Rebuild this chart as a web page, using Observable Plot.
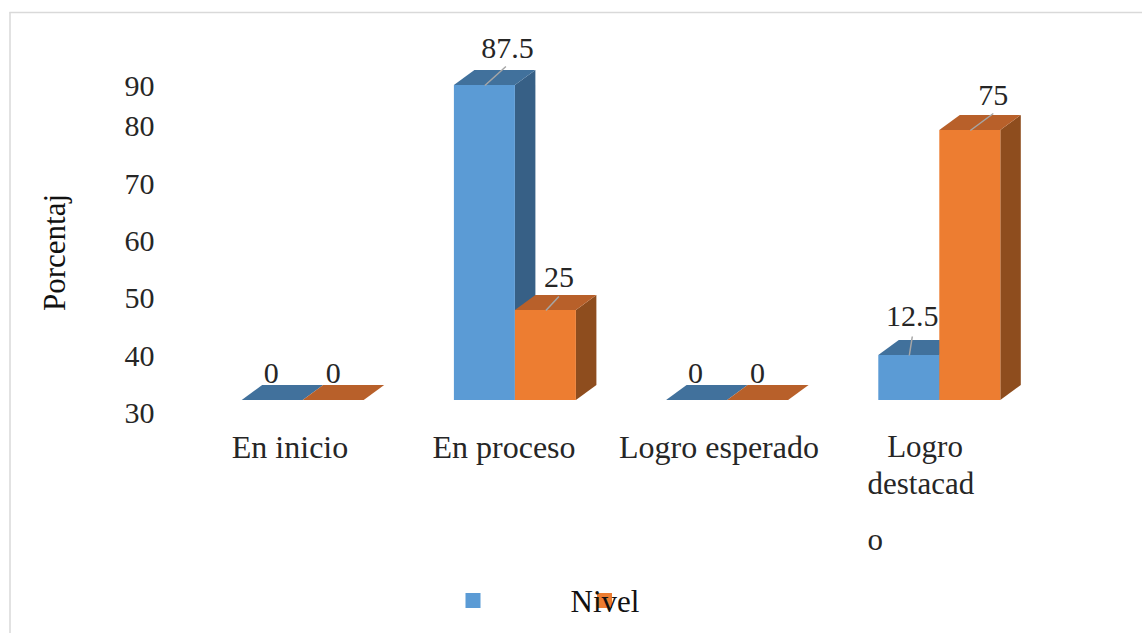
<!DOCTYPE html>
<html>
<head>
<meta charset="utf-8">
<script src="https://cdn.jsdelivr.net/npm/d3@7"></script>
<script src="https://cdn.jsdelivr.net/npm/@observablehq/plot@0.6"></script>
<style>
  html, body { margin: 0; padding: 0; background: #fff; }
  svg { display: block; }
</style>
</head>
<body>
<div id="chart"></div>
<script>
// Values of the two series, one per level
const categories = ["En inicio", "En proceso", "Logro esperado", "Logro destacado"];
const serieAzul = [0, 87.5, 0, 12.5];
const serieNaranja = [0, 25, 0, 75];
const yTickLabels = [30, 40, 50, 60, 70, 80, 90];
const legendLabel = "Nivel";
const yLabel = "Porcentaj";

// Scale geometry: category index on x, percentage on y
const W = 1142, H = 633;
const pxPerCategory = 212.2, firstCenterPx = 302.7, pxPerUnit = 3.6, basePx = 400;
const xAt = px => (px - firstCenterPx) / pxPerCategory;
const yAt = px => (basePx - px) / pxPerUnit;
const barW = 61 / pxPerCategory;
const depthX = 20.5 / pxPerCategory;
const depthY = 15 / pxPerUnit;

// Label offsets from the top centre of each column, in pixels
const labelOffsets = {
  "1-0": [22.5, -37], "1-1": [13, -33.5],
  "3-0": [3, -39], "3-1": [23, -35.5]
};
const zeroLabelOffsets = [[-1.5, -27], [-0.5, -27]];
const leaderEnds = {
  "1-0": [21, -19], "1-1": [13, -14],
  "3-0": [3, -19], "3-1": [23, -17]
};

const makeBars = (values, s) => values.map((v, i) => {
  const x1 = i + (s - 1) * barW;
  return { key: `${i}-${s}`, i, s, v, x1, x2: x1 + barW, mid: x1 + barW / 2 };
});

const sideRows = bars => bars.flatMap(b => [
  { key: b.key, x: b.x2, y1: 0, y2: b.v },
  { key: b.key, x: b.x2 + depthX, y1: depthY, y2: b.v + depthY }
]);
const topRows = bars => bars.flatMap(b => [
  { key: b.key, y: b.v, x1: b.x1, x2: b.x2 },
  { key: b.key, y: b.v + depthY, x1: b.x1 + depthX, x2: b.x2 + depthX }
]);

const barsAzul = makeBars(serieAzul, 0);
const barsNaranja = makeBars(serieNaranja, 1);
const allBars = [...barsAzul, ...barsNaranja];

const faces = (bars, front, top, side) => [
  Plot.areaY(sideRows(bars), { x: "x", y1: "y1", y2: "y2", z: "key", fill: side }),
  Plot.areaX(topRows(bars), { y: "y", x1: "x1", x2: "x2", z: "key", fill: top }),
  Plot.rect(bars, { x1: "x1", x2: "x2", y1: 0, y2: "v", fill: front, inset: 0 })
];

// Tick labels sit on their own spacing, independent from the bar heights
const tickPlace = d3.scaleLinear().domain([30, 80, 90]).range([yAt(413), yAt(126), yAt(86)]);

const serif = "'Liberation Serif', 'Times New Roman', serif";
const textInk = "#262626";

// Category labels, the last one wraps across three lines
const catLines = [
  { t: categories[0], px: 289.5, py: 447, fs: 32, anchor: "middle" },
  { t: categories[1], px: 503.5, py: 447, fs: 32, anchor: "middle" },
  { t: categories[2], px: 718.5, py: 447, fs: 32, anchor: "middle" },
  { t: "Logro", px: 924.5, py: 447, fs: 31, anchor: "middle" },
  { t: "destacad", px: 867, py: 484, fs: 31, anchor: "start" },
  { t: "o", px: 867, py: 540, fs: 31, anchor: "start" }
];

const valueLabels = allBars.map(b => {
  const [dx, dy] = b.v === 0 ? zeroLabelOffsets[b.s] : labelOffsets[b.key];
  return {
    x: b.mid + dx / pxPerCategory,
    y: b.v - dy / pxPerUnit,
    text: String(b.v)
  };
});
const leaders = allBars.filter(b => b.v > 0).map(b => {
  const [dx, dy] = leaderEnds[b.key];
  return { x1: b.mid, y1: b.v, x2: b.mid + dx / pxPerCategory, y2: b.v - dy / pxPerUnit };
});

const chart = Plot.plot({
  width: W,
  height: H,
  margin: 0,
  style: { background: "#fff", fontFamily: serif },
  x: { type: "linear", domain: [xAt(0), xAt(W)], range: [0, W], axis: null },
  y: { type: "linear", domain: [yAt(H), yAt(0)], range: [H, 0], axis: null },
  marks: [
    // Outer frame of the figure: left and top edges
    Plot.ruleX([xAt(9.5)], { y1: yAt(12), y2: yAt(H), stroke: "#d9d9d9", strokeWidth: 1.5 }),
    Plot.ruleY([yAt(12)], { x1: xAt(9.5), x2: xAt(W), stroke: "#d9d9d9", strokeWidth: 1.5 }),

    // Extruded columns, the first series underneath the second
    ...faces(barsAzul, "#5b9bd5", "#41719c", "#376086"),
    ...faces(barsNaranja, "#ed7d31", "#b8602a", "#8e4d1e"),

    // Leader lines from column tops to value labels
    Plot.link(leaders, { x1: "x1", y1: "y1", x2: "x2", y2: "y2", stroke: "#a6a6a6", strokeWidth: 1.5 }),

    // Value labels
    Plot.text(valueLabels, { x: "x", y: "y", text: "text", fontSize: 30, fill: textInk }),

    // Y axis tick labels and title
    Plot.text(yTickLabels, {
      x: () => xAt(139), y: d => tickPlace(d), text: d => String(d),
      fontSize: 30, fill: textInk
    }),
    Plot.text([yLabel], {
      x: () => xAt(55), y: () => yAt(252), text: d => d, rotate: -90,
      fontSize: 31, fill: "#111"
    }),

    // Category labels
    ...["middle", "start"].map(anchor => Plot.text(catLines.filter(d => d.anchor === anchor), {
      x: d => xAt(d.px), y: d => yAt(d.py), text: "t", textAnchor: anchor,
      fontSize: "fs", fill: textInk
    })),

    // Legend swatches and shared caption
    Plot.rect([465.5, 597], {
      x1: d => xAt(d), x2: d => xAt(d + 15), y1: yAt(593), y2: yAt(608),
      fill: (d, i) => (i === 0 ? "#5b9bd5" : "#ed7d31")
    }),
    Plot.text([legendLabel], {
      x: () => xAt(604.5), y: () => yAt(601.5), text: d => d,
      fontSize: 31, fill: "#111"
    })
  ]
});
document.getElementById("chart").append(chart);
</script>
</body>
</html>
